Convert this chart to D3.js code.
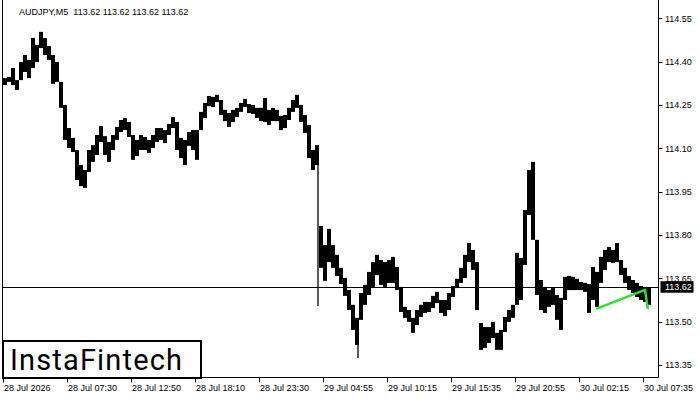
<!DOCTYPE html>
<html>
<head>
<meta charset="utf-8">
<script src="https://cdn.jsdelivr.net/npm/d3@7"></script>
<style>
  html, body { margin: 0; padding: 0; background: #fff; }
  svg { display: block; }
  text { font-family: "Liberation Sans", Arial, sans-serif; }
</style>
</head>
<body>
<svg id="chart" width="700" height="400"></svg>
<script>
// ---- data ----
const symbol = "AUDJPY,M5";
const lastPrice = 113.62;
const timeLabels = ["28 Jul 2026", "28 Jul 07:30", "28 Jul 12:50", "28 Jul 18:10", "28 Jul 23:30",
  "29 Jul 04:55", "29 Jul 10:15", "29 Jul 15:35", "29 Jul 20:55", "30 Jul 02:15", "30 Jul 07:35"];
const timeLabelBars = [0, 16, 32, 48, 64, 80, 96, 112, 128, 144, 160];
const priceTicks = [113.35, 113.50, 113.65, 113.80, 113.95, 114.10, 114.25, 114.40, 114.55];

const highs = [
  114.343,114.347,114.378,114.336,114.399,114.423,114.406,114.482,114.458,114.503,
  114.482,114.454,114.423,114.399,114.330,114.250,114.170,114.136,114.094,114.042,
  114.025,114.094,114.111,114.146,114.177,114.142,114.122,114.146,114.174,114.198,
  114.205,114.191,114.146,114.129,114.146,114.139,114.129,114.146,114.170,114.170,
  114.163,114.184,114.208,114.191,114.136,114.129,114.156,114.163,114.163,114.226,
  114.257,114.281,114.278,114.285,114.267,114.233,114.222,114.233,114.240,114.257,
  114.271,114.253,114.250,114.240,114.240,114.274,114.233,114.240,114.233,114.212,
  114.215,114.240,114.267,114.285,114.250,114.215,114.181,114.094,114.111,113.831,
  113.765,113.821,113.765,113.731,113.686,113.651,113.609,113.558,113.513,113.599,
  113.627,113.672,113.706,113.731,113.713,113.706,113.713,113.724,113.689,113.620,
  113.551,113.540,113.513,113.540,113.558,113.568,113.568,113.589,113.603,113.575,
  113.575,113.599,113.623,113.648,113.686,113.731,113.772,113.748,113.706,113.495,
  113.481,113.481,113.499,113.461,113.471,113.516,113.540,113.558,113.738,113.720,
  113.886,114.025,114.053,113.783,113.644,113.620,113.609,113.616,113.592,113.582,
  113.655,113.658,113.655,113.648,113.637,113.634,113.630,113.689,113.672,113.724,
  113.748,113.758,113.748,113.772,113.713,113.686,113.658,113.644,113.634,113.623,
  113.616,113.616
];
const lows = [
  114.319,114.330,114.319,114.302,114.336,114.364,114.343,114.378,114.399,114.447,
  114.423,114.406,114.323,114.330,114.240,114.129,114.101,114.087,113.990,113.969,
  113.963,114.018,114.053,114.077,114.122,114.077,114.053,114.094,114.129,114.156,
  114.163,114.139,114.060,114.073,114.094,114.094,114.084,114.101,114.122,114.129,
  114.118,114.146,114.170,114.094,114.066,114.042,114.108,114.094,114.060,114.163,
  114.205,114.246,114.243,114.260,114.215,114.194,114.174,114.191,114.208,114.226,
  114.243,114.222,114.219,114.205,114.194,114.191,114.181,114.194,114.194,114.163,
  114.170,114.198,114.226,114.240,114.191,114.153,114.066,114.025,114.042,113.686,
  113.641,113.706,113.686,113.658,113.630,113.589,113.540,113.471,113.419,113.506,
  113.558,113.592,113.620,113.661,113.627,113.620,113.634,113.634,113.609,113.533,
  113.513,113.499,113.461,113.488,113.516,113.530,113.533,113.547,113.564,113.530,
  113.519,113.540,113.585,113.616,113.634,113.651,113.706,113.679,113.540,113.402,
  113.409,113.426,113.443,113.402,113.402,113.464,113.499,113.513,113.558,113.575,
  113.696,113.869,113.783,113.592,113.540,113.530,113.551,113.558,113.506,113.471,
  113.575,113.609,113.609,113.609,113.609,113.603,113.530,113.575,113.551,113.634,
  113.679,113.706,113.703,113.706,113.661,113.634,113.609,113.599,113.585,113.575,
  113.568,113.558
];
// single-bar extremes (thin wicks)
const spikeBars = [78, 88];
const spikePrices = [113.554, 113.374];
// pattern line (bar position, price)
const patternBars = [148.3, 160.5, 161.2];
const patternPrices = [113.544, 113.610, 113.544];
const logoText = "InstaFintech";

// ---- drawing ----
const svg = d3.select("#chart");
const W = 700, H = 400;
const plotL = 2.5, plotR = 658.5, plotB = 377.5;
const nBars = highs.length;

svg.append("rect").attr("width", W).attr("height", H).attr("fill", "#fff");

const x = d3.scaleLinear().domain([0, nBars]).range([3, 3 + 4 * nBars]);
const y = d3.scaleLinear().domain([113.35, 114.55]).range([364.9, 18.3]);
const bw = x(1) - x(0);

// price line
svg.append("line")
  .attr("x1", plotL).attr("x2", plotR)
  .attr("y1", Math.round(y(lastPrice)) + 0.5).attr("y2", Math.round(y(lastPrice)) + 0.5)
  .attr("stroke", "#000").attr("stroke-width", 1);

// bars
svg.append("g").selectAll("rect").data(d3.range(nBars)).join("rect")
  .attr("x", i => x(i))
  .attr("width", bw)
  .attr("y", i => y(highs[i]))
  .attr("height", i => Math.max(1.5, y(lows[i]) - y(highs[i])))
  .attr("fill", "#000");

// thin wicks
svg.append("g").selectAll("line").data(d3.range(spikeBars.length)).join("line")
  .attr("x1", i => x(spikeBars[i] + 0.75)).attr("x2", i => x(spikeBars[i] + 0.75))
  .attr("y1", i => y(lows[spikeBars[i]]))
  .attr("y2", i => y(spikePrices[i]))
  .attr("stroke", "#000").attr("stroke-width", 1.3);

// pattern line
svg.append("path")
  .datum(d3.range(patternBars.length))
  .attr("d", d3.line().x(i => x(patternBars[i])).y(i => y(patternPrices[i])))
  .attr("fill", "none").attr("stroke", "#2fe02f").attr("stroke-width", 2.5)
  .attr("stroke-linejoin", "round");

// frame
svg.append("path")
  .attr("d", `M${plotL},0 V${plotB} H${plotR} V0`)
  .attr("fill", "none").attr("stroke", "#000").attr("stroke-width", 1);

// right axis
const yAxis = svg.append("g");
priceTicks.forEach(p => {
  const yy = Math.round(y(p)) + 0.5;
  yAxis.append("line").attr("x1", plotR).attr("x2", plotR + 4)
    .attr("y1", yy).attr("y2", yy).attr("stroke", "#000");
  yAxis.append("text").attr("x", 665).attr("y", y(p) + 3.3)
    .attr("font-size", 9).attr("fill", "#000").text(p.toFixed(2));
});
// last price box
const ly = y(lastPrice);
svg.append("rect").attr("x", 660.5).attr("y", ly - 5.7).attr("width", 33).attr("height", 11.5).attr("fill", "#000");
svg.append("text").attr("x", 665).attr("y", ly + 3.3).attr("font-size", 9).attr("fill", "#fff").text(lastPrice.toFixed(2));

// bottom axis
const xAxis = svg.append("g");
timeLabels.forEach((t, k) => {
  const xx = Math.round(x(timeLabelBars[k])) + 0.5;
  xAxis.append("line").attr("x1", xx).attr("x2", xx).attr("y1", plotB).attr("y2", plotB + 5).attr("stroke", "#000");
  xAxis.append("text").attr("x", xx + 0.5).attr("y", 391).attr("font-size", 9).attr("fill", "#000").text(t);
});

// title
svg.append("text").attr("x", 19).attr("y", 15).attr("font-size", 9).attr("fill", "#000")
  .attr("xml:space", "preserve").style("white-space", "pre")
  .text(symbol + "  " + [lastPrice, lastPrice, lastPrice, lastPrice].map(v => v.toFixed(2)).join(" "));

// logo
svg.append("rect").attr("x", 3).attr("y", 341).attr("width", 198).attr("height", 37)
  .attr("fill", "#fff").attr("stroke", "#000").attr("stroke-width", 2);
svg.append("text").attr("x", 10).attr("y", 370).attr("font-size", 29)
  .style("font-family", "Roboto, 'Open Sans', sans-serif").attr("font-weight", 400)
  .attr("textLength", 172).attr("lengthAdjust", "spacing")
  .attr("fill", "#000").text(logoText);
</script>
</body>
</html>
